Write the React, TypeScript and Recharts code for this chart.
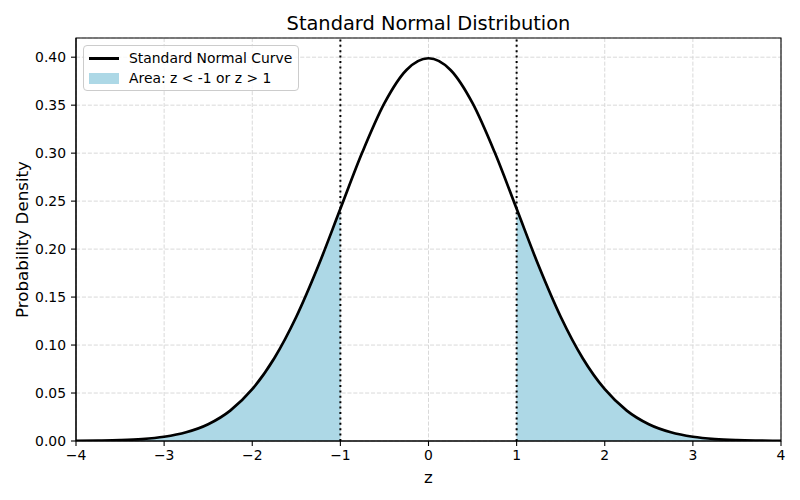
import React from 'react';
import {
  ComposedChart,
  Line,
  Area,
  XAxis,
  YAxis,
  CartesianGrid,
  ReferenceLine,
  ReferenceArea,
} from 'recharts';

const zValues = [
  -4, -3.75, -3.5, -3.25, -3, -2.75, -2.5, -2.25, -2, -1.75, -1.5, -1.25, -1, -0.75, -0.5, -0.25,
  0, 0.25, 0.5, 0.75, 1, 1.25, 1.5, 1.75, 2, 2.25, 2.5, 2.75, 3, 3.25, 3.5, 3.75, 4,
];
const density = [
  0.0001, 0.0004, 0.0009, 0.002, 0.0044, 0.0091, 0.0175, 0.0317, 0.054, 0.0863, 0.1295, 0.1826,
  0.242, 0.3011, 0.3521, 0.3867, 0.3989, 0.3867, 0.3521, 0.3011, 0.242, 0.1826, 0.1295, 0.0863,
  0.054, 0.0317, 0.0175, 0.0091, 0.0044, 0.002, 0.0009, 0.0004, 0.0001,
];
const xTicks = [-4, -3, -2, -1, 0, 1, 2, 3, 4];
const yTicks = [0, 0.05, 0.1, 0.15, 0.2, 0.25, 0.3, 0.35, 0.4];
const cutoffs = [-1, 1];

const data = zValues.map((z, i) => ({
  z,
  pdf: density[i],
  left: z <= cutoffs[0] ? density[i] : null,
  right: z >= cutoffs[1] ? density[i] : null,
}));

const FONT = '"DejaVu Sans", sans-serif';
const fmtX = (v: number) => (v < 0 ? '\u2212' + Math.abs(v) : String(v));

const LegendBox = () => (
  <div
    style={{
      position: 'absolute',
      left: 83,
      top: 45,
      zIndex: 2,
      border: '1px solid #cccccc',
      borderRadius: 4,
      background: 'rgba(255,255,255,0.8)',
      padding: '2px 6px 2px 5px',
      fontFamily: FONT,
      fontSize: 13.9,
      color: '#000',
      lineHeight: '20px',
      width: 'max-content',
    }}
  >
    <div style={{ display: 'flex', alignItems: 'center' }}>
      <span style={{ display: 'inline-block', width: 30, height: 3, background: '#000', marginRight: 10 }} />
      <span>Standard Normal Curve</span>
    </div>
    <div style={{ display: 'flex', alignItems: 'center' }}>
      <span style={{ display: 'inline-block', width: 30, height: 11, background: '#add8e6', marginRight: 10 }} />
      <span>Area: z &lt; -1 or z &gt; 1</span>
    </div>
  </div>
);

const YLabel = (props: any) => {
  const vb = props.viewBox || {};
  const cx = (vb.x ?? 0) + 22;
  const cy = (vb.y ?? 0) + (vb.height ?? 0) / 2;
  return (
    <text
      x={cx}
      y={cy}
      transform={`rotate(-90, ${cx}, ${cy})`}
      textAnchor="middle"
      dominantBaseline="central"
      style={{ fontFamily: FONT, fontSize: 16.7, fill: '#000' }}
    >
      Probability Density
    </text>
  );
};

export default function App() {
  return (
    <div style={{ position: 'absolute', left: 0, top: 0, width: 800, height: 500, background: '#fff' }}>
      <div
        style={{
          position: 'absolute',
          left: 76,
          width: 705,
          top: 12,
          textAlign: 'center',
          fontFamily: FONT,
          fontSize: 19.4,
          lineHeight: '24px',
          color: '#000',
        }}
      >
        Standard Normal Distribution
      </div>
      <LegendBox />
      <ComposedChart
        width={800}
        height={500}
        data={data}
        margin={{ top: 38, right: 19, bottom: 0, left: 0 }}
      >
        <CartesianGrid stroke="#d9d9d9" strokeDasharray="4.1 1.8" strokeWidth={1} />
        <XAxis
          dataKey="z"
          type="number"
          domain={[-4, 4]}
          ticks={xTicks}
          tickFormatter={fmtX}
          height={59}
          allowDataOverflow
          tickSize={5}
          tickMargin={4}
          axisLine={{ stroke: '#000', strokeWidth: 1.1 }}
          tickLine={{ stroke: '#000', strokeWidth: 1.1 }}
          tick={{ fill: '#000', fontSize: 13.9, fontFamily: FONT }}
          label={{ value: 'z', position: 'insideBottom', offset: 17, fill: '#000', fontSize: 16.7, fontFamily: FONT }}
        />
        <YAxis
          type="number"
          domain={[0, 0.42]}
          ticks={yTicks}
          tickFormatter={(v: number) => v.toFixed(2)}
          width={76}
          allowDataOverflow
          tickSize={5}
          tickMargin={5}
          axisLine={{ stroke: '#000', strokeWidth: 1.1 }}
          tickLine={{ stroke: '#000', strokeWidth: 1.1 }}
          tick={{ fill: '#000', fontSize: 13.9, fontFamily: FONT }}
          label={<YLabel />}
        />
        <Area
          dataKey="left"
          type="monotone"
          stroke="none"
          fill="#add8e6"
          fillOpacity={1}
          isAnimationActive={false}
          connectNulls={false}
        />
        <Area
          dataKey="right"
          type="monotone"
          stroke="none"
          fill="#add8e6"
          fillOpacity={1}
          isAnimationActive={false}
          connectNulls={false}
        />
        {cutoffs.map((c) => (
          <ReferenceLine key={c} x={c} stroke="#000" strokeWidth={2} strokeDasharray="2 3.4" />
        ))}
        <Line
          dataKey="pdf"
          type="monotone"
          stroke="#000"
          strokeWidth={2.7}
          dot={false}
          activeDot={false}
          isAnimationActive={false}
        />
        <ReferenceArea x1={-4} x2={4} y1={0} y2={0.42} fill="none" stroke="#000" strokeWidth={1.1} ifOverflow="visible" />
      </ComposedChart>
    </div>
  );
}
